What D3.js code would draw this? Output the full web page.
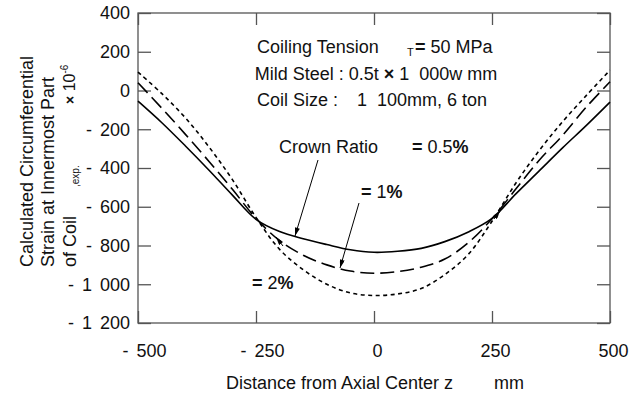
<!DOCTYPE html>
<meta charset="utf-8">
<head>
  <script type="text/javascript" src="https://cdn.jsdelivr.net/npm/d3@7"></script>
  <style>
    body { margin: 0; background: #fff; }
    text { font-family: "Liberation Sans", Arial, sans-serif; fill: #111; }
    .axis path { display: none; }
    .axis line { stroke: #555; stroke-width: 1.3; }
    .axis text { font-size: 18px; fill: #111; word-spacing: 3px; }
  </style>
  <title>Circumferential strain</title>
</head>
<body>
<div id="chart"></div>
<script>
    // distance from axial center z (mm)
    var zValues = [-500, -450, -400, -350, -300, -250, -200, -150, -100, -50, 0,
                   50, 100, 150, 200, 250, 300, 350, 400, 450, 500];
    // calculated strain x 10^-6, one array per crown ratio
    var crown05 = [-55, -165, -285, -410, -540, -665, -728, -765, -795, -822, -835,
                   -830, -815, -780, -730, -660, -535, -415, -295, -180, -60];
    var crown1 = [40, -90, -225, -365, -510, -660, -775, -850, -900, -932, -943,
                  -935, -912, -870, -785, -662, -510, -360, -230, -85, 45];
    var crown2 = [95, -15, -140, -290, -460, -655, -820, -925, -1000, -1045, -1058,
                  -1050, -1022, -950, -845, -675, -480, -310, -160, -25, 105];

    var xTicks = [-500, -250, 0, 250, 500];
    var xTickLabels = ["- 500", "- 250", "0", "250", "500"];
    var yTicks = [400, 200, 0, -200, -400, -600, -800, -1000, -1200];
    var yTickLabels = ["400", "200", "0", "- 200", "- 400", "- 600", "- 800", "- 1 000", "- 1 200"];

    const width = 639;
    const height = 394;
    const margin = {top: 13, right: 29, bottom: 71, left: 138};

    var svg = d3.select("#chart")
        .append("svg")
        .attr("width", width)
        .attr("height", height);

    var x = d3.scaleLinear().domain([-500, 500]).range([margin.left, width - margin.right]);
    var y = d3.scaleLinear().domain([-1200, 400]).range([height - margin.bottom, margin.top]);

    // frame
    svg.append("rect")
        .attr("x", x(-500)).attr("y", y(400))
        .attr("width", x(500) - x(-500)).attr("height", y(-1200) - y(400))
        .attr("fill", "none").attr("stroke", "#555").attr("stroke-width", 1.3);

    // axes, ticks pointing inwards
    svg.append("g").attr("class", "axis")
        .attr("transform", "translate(" + x(-500) + ",0)")
        .call(d3.axisLeft(y).tickValues(yTicks).tickSize(-13).tickPadding(8)
            .tickFormat(function(d, i) { return yTickLabels[i]; }));
    svg.append("g").attr("class", "axis")
        .attr("transform", "translate(" + x(500) + ",0)")
        .call(d3.axisRight(y).tickValues(yTicks).tickSize(-13).tickFormat(""));
    var xAxis = svg.append("g").attr("class", "axis")
        .attr("transform", "translate(0," + y(-1200) + ")")
        .call(d3.axisBottom(x).tickValues(xTicks).tickSize(-12).tickPadding(21)
            .tickFormat(function(d, i) { return xTickLabels[i]; }));
    // labels sit a little right of their ticks in the original
    xAxis.selectAll("text").attr("dx", function(d) { return d < 0 ? 6 : 3; });
    svg.append("g").attr("class", "axis")
        .attr("transform", "translate(0," + y(400) + ")")
        .call(d3.axisTop(x).tickValues(xTicks).tickSize(-12).tickFormat(""));

    // curves
    var line = d3.line()
        .x(function(d, i) { return x(zValues[i]); })
        .y(function(d) { return y(d); })
        .curve(d3.curveCatmullRom);

    var series = [
        {values: crown05, dash: null},
        {values: crown1, dash: "14,6"},
        {values: crown2, dash: "4,3.5"}
    ];
    svg.selectAll("path.curve")
        .data(series)
        .enter().append("path")
        .attr("class", "curve")
        .attr("d", function(d) { return line(d.values); })
        .attr("fill", "none")
        .attr("stroke", "#000")
        .attr("stroke-width", 1.6)
        .attr("stroke-dasharray", function(d) { return d.dash; });

    // arrow marker
    svg.append("defs").append("marker")
        .attr("id", "head")
        .attr("viewBox", "0 0 10 6")
        .attr("refX", 10).attr("refY", 3)
        .attr("markerWidth", 9).attr("markerHeight", 5)
        .attr("markerUnits", "userSpaceOnUse")
        .attr("orient", "auto")
        .append("path").attr("d", "M0,0L10,3L0,6Z").attr("fill", "#000");

    var arrows = [[318, 160, 295, 236], [359, 203, 340, 268], [283, 246, 276, 237], [494, 219, 500, 211]];
    svg.selectAll("line.arrow")
        .data(arrows)
        .enter().append("line")
        .attr("class", "arrow")
        .attr("x1", function(d) { return d[0]; }).attr("y1", function(d) { return d[1]; })
        .attr("x2", function(d) { return d[2]; }).attr("y2", function(d) { return d[3]; })
        .attr("stroke", "#000").attr("stroke-width", 1)
        .attr("marker-end", "url(#head)");

    // annotation block
    var t1 = svg.append("text").attr("x", 257).attr("y", 53).style("font-size", "18px");
    t1.append("tspan").text("Coiling Tension");
    t1.append("tspan").attr("x", 407).attr("dy", 3).style("font-size", "11px").text("T");
    t1.append("tspan").attr("x", 415).attr("dy", -3).style("font-weight", "bold").text("=");
    t1.append("tspan").text(" 50 MPa");

    var t2 = svg.append("text").attr("x", 376).attr("y", 80).attr("text-anchor", "middle")
        .style("font-size", "18px");
    t2.append("tspan").text("Mild Steel : 0.5t ");
    t2.append("tspan").style("font-weight", "bold").text("\u00d7");
    t2.append("tspan").text(" 1\u00a0 000w mm");

    svg.append("text").attr("x", 257).attr("y", 106).style("font-size", "18px").text("Coil Size :");
    svg.append("text").attr("x", 357).attr("y", 106).style("font-size", "18px").text("1\u00a0 100mm, 6 ton");

    // crown ratio labels
    svg.append("text").attr("x", 279).attr("y", 153).style("font-size", "18px").text("Crown Ratio");
    var crownLabels = [[412, 153, "0.5"], [361, 198, "1"], [252, 289, "2"]];
    crownLabels.forEach(function(c) {
        var t = svg.append("text").attr("x", c[0]).attr("y", c[1]).style("font-size", "18px");
        t.append("tspan").style("font-weight", "bold").text("=");
        t.append("tspan").text(" " + c[2]);
        t.append("tspan").style("font-weight", "bold").text("%");
    });

    // y axis title
    var yTitle = [[33, "Calculated Circumferential"], [54, "Strain at Innermost Part"], [76, "of Coil"]];
    yTitle.forEach(function(l) {
        svg.append("text")
            .attr("transform", "translate(" + l[0] + ",267) rotate(-90)")
            .style("font-size", "18px")
            .text(l[1]);
    });
    svg.append("text")
        .attr("transform", "translate(79,187) rotate(-90)")
        .style("font-size", "10px")
        .text(",exp.");
    var unit = svg.append("text")
        .attr("transform", "translate(75,104) rotate(-90)")
        .style("font-size", "16px");
    unit.append("tspan").style("font-weight", "bold").style("font-size", "14px").text("\u00d7");
    unit.append("tspan").text(" 10");
    unit.append("tspan").attr("dy", -7).style("font-size", "10px").text("-6");

    // x axis title
    svg.append("text").attr("x", 226).attr("y", 389).style("font-size", "18px")
        .text("Distance from Axial Center z");
    svg.append("text").attr("x", 494).attr("y", 389).style("font-size", "18px").text("mm");
</script>
</body>
</html>
